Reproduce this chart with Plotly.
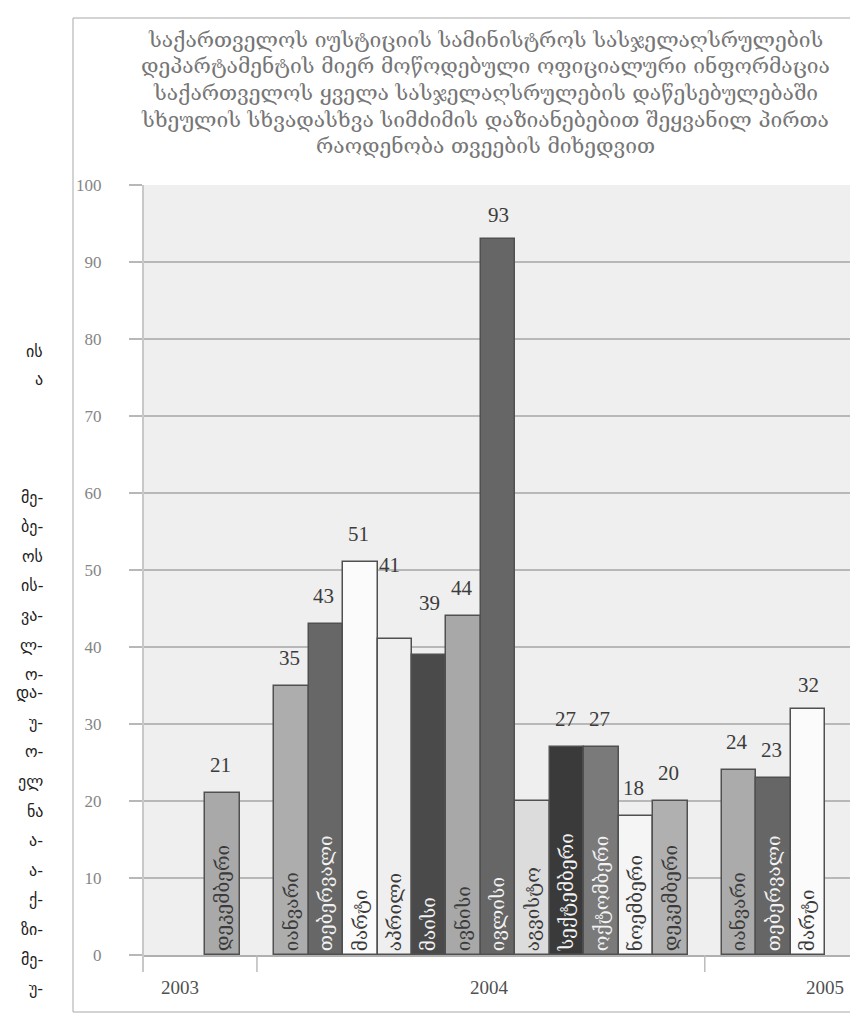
import plotly.graph_objects as go

# ---------------- data ----------------
bar_years = ["2003"] + ["2004"] * 12 + ["2005"] * 3
bar_months = ["დეკემბერი", "იანვარი", "თებერვალი", "მარტი", "აპრილი", "მაისი",
              "ივნისი", "ივლისი", "აგვისტო", "სექტემბერი", "ოქტომბერი", "ნოემბერი",
              "დეკემბერი", "იანვარი", "თებერვალი", "მარტი"]
values = [21, 35, 43, 51, 41, 39, 44, 93, 20, 27, 27, 18, 20, 24, 23, 32]
year_labels = ["2003", "2004", "2005"]
y_ticks = [0, 10, 20, 30, 40, 50, 60, 70, 80, 90, 100]

title_lines = [
    "საქართველოს იუსტიციის სამინისტროს სასჯელაღსრულების",
    "დეპარტამენტის მიერ მოწოდებული ოფიციალური ინფორმაცია",
    "საქართველოს ყველა სასჯელაღსრულების დაწესებულებაში",
    "სხეულის სხვადასხვა სიმძიმის დაზიანებებით შეყვანილ პირთა",
    "რაოდენობა თვეების მიხედვით",
]

side_text_top = ["ის", "ა"]
side_text_body = ["მე-", "ბე-", "ოს", "ის-", "ვა-", "ლ-", "ო-", "და-", "უ-",
                  "ო-", "ელ", "ნა", "ა-", "ა-", "ქ-", "ზი-", "მე-", "უ-"]

# ---------------- styles ----------------
bar_colors = ["#a9a9a9", "#adadad", "#676767", "#fbfbfb", "#efefef", "#4a4a4a",
              "#a8a8a8", "#666666", "#dcdcdc", "#3a3a3a", "#7a7a7a", "#f5f5f5",
              "#b0b0b0", "#ababab", "#666666", "#fbfbfb"]
dark_bars = {"#676767", "#4a4a4a", "#666666", "#3a3a3a", "#7a7a7a"}
text_colors = ["#f2f2f2" if c in dark_bars else "#3a3a3a" for c in bar_colors]

# slot positions: one empty slot between years
year_order = {y: i for i, y in enumerate(year_labels)}
xpos = [i + year_order[y] for i, y in enumerate(bar_years)]

OFF = 8                      # browser body margin
W, H = 858 - OFF, 1017 - OFF
PL, PR, PT, PB = 143, 858, 185, 955   # plot area in reference pixels
SLOT = 34.45
X0 = 222.5


def px_x(p):
    return (p - PL) / (PR - PL)


def px_y(p):
    return (PB - p) / (PB - PT)


fig = go.Figure()
fig.add_trace(go.Bar(
    x=xpos, y=values, width=1,
    marker=dict(color=bar_colors, line=dict(color="#505050", width=1.5)),
    text=bar_months, textposition="inside", insidetextanchor="start",
    textangle=-90,
    textfont=dict(family="DejaVu Serif", size=19, color=text_colors),
    constraintext="none",
    hoverinfo="skip", showlegend=False,
))

annotations = []
# value labels
label_shift = {4: (74, -5), 5: (52, 0), 7: (24, 0), 15: (24, 0)}
hidden_labels = {8}
for i, (x, v) in enumerate(zip(xpos, values)):
    if i in hidden_labels:
        continue
    ys, xs = label_shift.get(i, (28, -2))
    annotations.append(dict(x=x, y=v, xref="x", yref="y", text=str(v),
                            showarrow=False, yshift=ys, xshift=xs,
                            font=dict(family="Liberation Serif", size=21, color="#3c3c3c")))

# year labels under the axis
year_x = {"2003": -1.23, "2004": 7.76, "2005": 17.5}
for yl in year_labels:
    annotations.append(dict(x=year_x[yl], y=px_y(1000), xref="x", yref="paper",
                            text=yl, showarrow=False,
                            font=dict(family="Liberation Serif", size=19, color="#505050")))

# title, one annotation per line
for k, line in enumerate(title_lines):
    annotations.append(dict(x=px_x(485), y=px_y(40 + k * 26.5), xref="paper", yref="paper",
                            text=line, showarrow=False,
                            xanchor="center", yanchor="middle",
                            font=dict(family="DejaVu Serif", size=21, color="#767676")))

# cropped page text at the far left
for t, yy in zip(side_text_top, [340, 368]):
    annotations.append(dict(x=px_x(45), y=px_y(yy), xref="paper", yref="paper",
                            text=t, showarrow=False, xanchor="right",
                            font=dict(family="DejaVu Sans", size=16, color="#222222")))
for k, t in enumerate(side_text_body):
    yy = 497 + k * 29.6
    annotations.append(dict(x=px_x(45), y=px_y(yy), xref="paper", yref="paper",
                            text=t, showarrow=False, xanchor="right",
                            font=dict(family="DejaVu Sans", size=16, color="#222222")))

shapes = [
    # outer chart frame
    dict(type="rect", xref="paper", yref="paper",
         x0=px_x(73), x1=px_x(870), y0=px_y(1012), y1=px_y(18),
         line=dict(color="#a8a8a8", width=1), fillcolor="rgba(0,0,0,0)", layer="below"),
    # left edge of plot area
    dict(type="line", xref="paper", yref="paper", x0=0, x1=0, y0=px_y(972), y1=1,
         line=dict(color="#c8c8c8", width=2)),
]
for gx in [1, 14]:
    shapes.append(dict(type="line", xref="x", yref="paper", x0=gx, x1=gx,
                       y0=px_y(955), y1=px_y(972), line=dict(color="#bbbbbb", width=1.5)))

fig.update_layout(
    width=W, height=H,
    margin=dict(l=PL - OFF, r=0, t=PT - OFF, b=H - (PB - OFF), pad=0),
    paper_bgcolor="white",
    plot_bgcolor="#efefef",
    bargap=0,
    showlegend=False,
    annotations=annotations,
    shapes=shapes,
    xaxis=dict(range=[(PL - X0) / SLOT, (PR - X0) / SLOT], showticklabels=False,
               showgrid=False, zeroline=False, ticks="", showline=True,
               linecolor="#b0b0b0", linewidth=2, fixedrange=True),
    yaxis=dict(range=[0, 100], tickvals=y_ticks, ticktext=[str(t) for t in y_ticks],
               showgrid=True, gridcolor="#b8b8b8", gridwidth=2, zeroline=False,
               ticks="outside", ticklen=13, tickcolor="#b8b8b8", tickwidth=2,
               ticklabelstandoff=24,
               tickfont=dict(family="Liberation Serif", size=17, color="#858585"),
               fixedrange=True),
)

fig.write_html("out.html")
